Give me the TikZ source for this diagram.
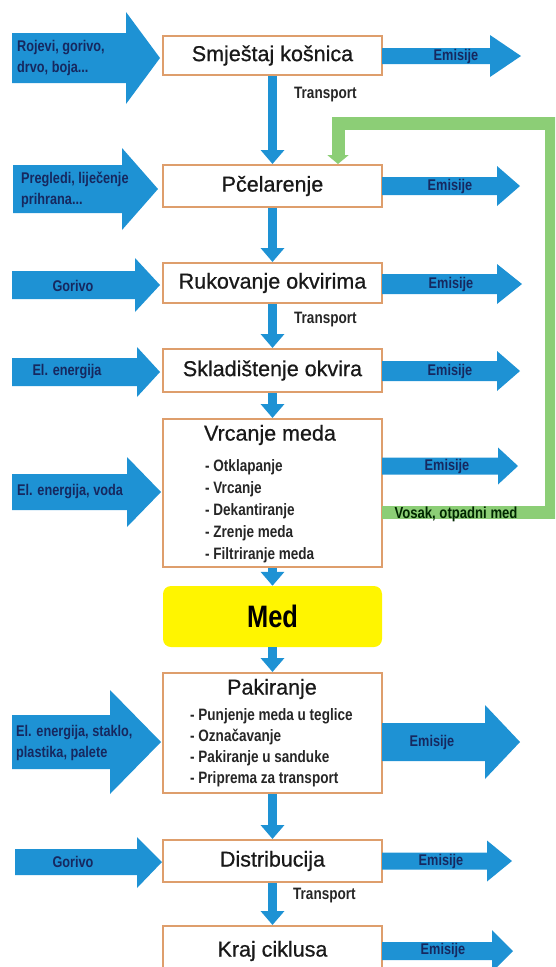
\documentclass[tikz,border=0pt]{standalone}
\usepackage{fontspec}
\setmainfont{Liberation Sans}
\newfontfamily\titlefont{Liberation Sans}[FakeBold=0.7]
\newfontfamily\narrowsans{Liberation Sans}[FakeStretch=0.82]
\usetikzlibrary{arrows.meta}

\definecolor{flowblue}{RGB}{30,146,212}
\definecolor{boxline}{RGB}{222,158,108}
\definecolor{loopgreen}{RGB}{140,206,118}
\definecolor{labelnavy}{RGB}{22,40,95}
\definecolor{honey}{RGB}{255,245,0}

\tikzset{
  stagebox/.style={draw=boxline, line width=2pt, fill=white, minimum width=219pt,
    inner sep=0pt, text=black!90, font=\titlefont\fontsize{21.5}{24}\selectfont},
  honeybox/.style={fill=honey, rounded corners=8pt, minimum width=219pt,
    inner sep=0pt, font=\narrowsans\bfseries\fontsize{31}{34}\selectfont},
  fat/.style={fill=flowblue},
  flow/.style={draw=flowblue, line width=9pt, -{Triangle[width=23pt,length=14pt]}},
  loopline/.style={draw=loopgreen, line width=13pt, -{Triangle[width=21pt,length=9pt]}},
  inlabel/.style={text=labelnavy, inner sep=0pt, align=left,
    font=\narrowsans\bfseries\fontsize{15.5}{21}\selectfont},
  translabel/.style={anchor=west, inner sep=0pt, text=black!85,
    font=\narrowsans\bfseries\fontsize{16.5}{20}\selectfont},
  substeps/.style={anchor=north west, inner sep=0pt, align=left, text=black!85,
    font=\narrowsans\bfseries\fontsize{16.5}{22}\selectfont}
}

\begin{document}
\begin{tikzpicture}[x=1pt,y=-1pt]
\useasboundingbox (0,0) rectangle (555,967);
\clip (0,0) rectangle (555,967);

% faze procesa
\node[stagebox, minimum height=39pt] (smjestaj) at (272.5,55.5) {Smještaj košnica};
\node[stagebox, minimum height=42pt] (pcelarenje) at (272.5,186) {Pčelarenje};
\node[stagebox, minimum height=40pt] (rukovanje) at (272.5,283) {Rukovanje okvirima};
\node[stagebox, minimum height=43pt] (skladistenje) at (272.5,370.5) {Skladištenje okvira};
\node[stagebox, minimum height=148pt] (vrcanje) at (272.5,493) {};
\node[honeybox, minimum height=61pt] (med) at (272.5,616.5) {Med};
\node[stagebox, minimum height=120pt] (pakiranje) at (272.5,733) {};
\node[stagebox, minimum height=42pt] (distribucija) at (272.5,861) {Distribucija};
\node[stagebox, minimum height=50pt] (kraj) at (272.5,951) {\raisebox{4pt}{Kraj ciklusa}};

\node[stagebox, draw=none, fill=none] (vrcanjetitle) at (270,435) {Vrcanje meda};
\node[substeps] (vrcanjesteps) at (205,459) {- Otklapanje\\- Vrcanje\\- Dekantiranje\\- Zrenje meda\\- Filtriranje meda};
\node[stagebox, draw=none, fill=none] (pakiranjetitle) at (272,689) {Pakiranje};
\node[substeps, font=\narrowsans\bfseries\fontsize{16.5}{21}\selectfont] (pakiranjesteps) at (190,708.5) {- Punjenje meda u teglice\\- Označavanje\\- Pakiranje u sanduke\\- Priprema za transport};

% povratna petlja
\coordinate (waste) at (382,512);
\coordinate (loopturn) at (338,123);
\draw[loopline] (waste) -- (551,512) -- (551,123) -- (loopturn) -- (loopturn |- pcelarenje.north);
\node[inner sep=0pt, text=black!85!green, font=\narrowsans\bfseries\fontsize{16}{20}\selectfont] (vosak) at (456,514) {Vosak, otpadni med};

% ulazi
\fill[fat] (12,33) -- (126,33) -- (126,12) -- (160,58) -- (126,104) -- (126,83) -- (12,83) -- cycle;
\node[inlabel, anchor=west] (rojevi) at (17,58) {Rojevi, gorivo,\\drvo, boja...};
\fill[fat] (13,165) -- (122,165) -- (122,148) -- (158,189) -- (122,230) -- (122,213) -- (13,213) -- cycle;
\node[inlabel, anchor=west] (pregledi) at (21,190) {Pregledi, liječenje\\prihrana...};
\fill[fat] (12,271) -- (135,271) -- (135,258) -- (160,285) -- (135,312) -- (135,299) -- (12,299) -- cycle;
\node[inlabel] (gorivo1) at (73,286) {Gorivo};
\fill[fat] (12,358) -- (137,358) -- (137,347) -- (160,372) -- (137,397) -- (137,386) -- (12,386) -- cycle;
\node[inlabel] (struja) at (67,372) {El. energija};
\fill[fat] (12,474) -- (127,474) -- (127,457) -- (161,492) -- (127,527) -- (127,510) -- (12,510) -- cycle;
\node[inlabel, anchor=west] (strujavoda) at (17,492) {El. energija, voda};
\fill[fat] (12,715) -- (110,715) -- (110,690) -- (161,742) -- (110,794) -- (110,769) -- (12,769) -- cycle;
\node[inlabel, anchor=west] (ambalaza) at (16,743) {El. energija, staklo,\\plastika, palete};
\fill[fat] (15,849) -- (137,849) -- (137,837) -- (162,862) -- (137,888) -- (137,875) -- (15,875) -- cycle;
\node[inlabel] (gorivo2) at (73,862) {Gorivo};

% emisije
\fill[fat] (382,48) -- (490,48) -- (490,35) -- (521,56) -- (490,77) -- (490,64) -- (382,64) -- cycle;
\node[inlabel] (emisije1) at (456,56) {Emisije};
\fill[fat] (382,177) -- (497,177) -- (497,166) -- (520,186) -- (497,206) -- (497,195) -- (382,195) -- cycle;
\node[inlabel] (emisije2) at (450,186) {Emisije};
\fill[fat] (382,274) -- (497,274) -- (497,264) -- (522,284) -- (497,304) -- (497,294) -- (382,294) -- cycle;
\node[inlabel] (emisije3) at (451,284) {Emisije};
\fill[fat] (382,361) -- (497,361) -- (497,351) -- (520,371) -- (497,391) -- (497,381) -- (382,381) -- cycle;
\node[inlabel] (emisije4) at (450,371) {Emisije};
\fill[fat] (382,457.5) -- (498,457.5) -- (498,447.5) -- (518,466) -- (498,484.5) -- (498,474.5) -- (382,474.5) -- cycle;
\node[inlabel] (emisije5) at (447,466) {Emisije};
\fill[fat] (382,723) -- (485,723) -- (485,705) -- (520,742) -- (485,779) -- (485,761) -- (382,761) -- cycle;
\node[inlabel] (emisije6) at (432,742) {Emisije};
\fill[fat] (382,852.5) -- (487,852.5) -- (487,840.5) -- (512,861) -- (487,881.5) -- (487,869.5) -- (382,869.5) -- cycle;
\node[inlabel] (emisije7) at (441,861) {Emisije};
\fill[fat] (382,942) -- (492,942) -- (492,930) -- (513,951) -- (492,972) -- (492,960) -- (382,960) -- cycle;
\node[inlabel] (emisije8) at (443,950) {Emisije};

% tok
\draw[flow] (smjestaj) -- (pcelarenje);
\draw[flow] (pcelarenje) -- (rukovanje);
\draw[flow] (rukovanje) -- (skladistenje);
\draw[flow] (skladistenje) -- (vrcanje);
\draw[flow] (vrcanje) -- (med);
\draw[flow] (med) -- (pakiranje);
\draw[flow] (pakiranje) -- (distribucija);
\draw[flow] (distribucija) -- (kraj);
\node[translabel] (transport1) at (294,95) {Transport};
\node[translabel] (transport2) at (294,320) {Transport};
\node[translabel] (transport3) at (293,896) {Transport};
\end{tikzpicture}
\end{document}
